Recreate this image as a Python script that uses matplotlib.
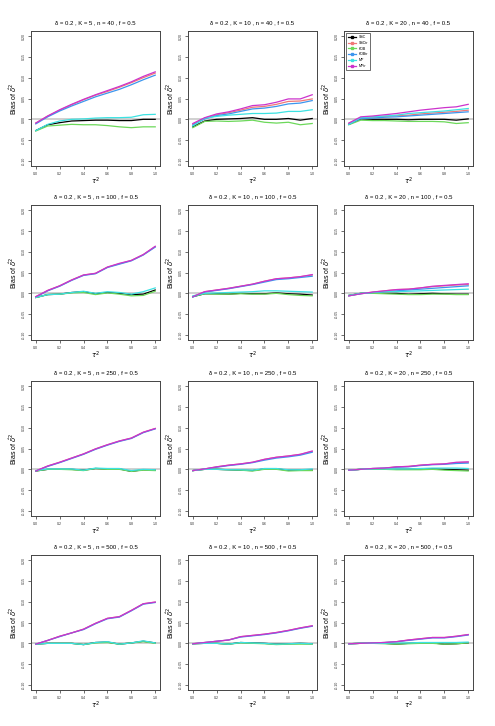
#!/usr/bin/env python3
"""Bias of delta^2 estimators vs tau^2, 4x3 grid of simulation settings."""

import matplotlib.pyplot as plt

plt.rcParams["font.family"] = ["Liberation Sans", "DejaVu Sans"]

tau2 = [0.0, 0.1, 0.2, 0.3, 0.4, 0.5, 0.6, 0.7, 0.8, 0.9, 1.0]
K_vals = [5, 10, 20]
n_vals = [40, 100, 250, 500]

# one row per panel, order: n=40 (K=5,10,20), n=100 (...), n=250, n=500
ssc = [
    [-0.027, -0.013, -0.008, -0.004, -0.003, -0.002, -0.002, -0.003, -0.003, 0.000, 0.000],
    [-0.018, -0.004, 0.000, 0.001, 0.002, 0.004, 0.000, 0.000, 0.002, -0.002, 0.002],
    [-0.012, 0.001, 0.000, 0.000, 0.000, -0.001, 0.000, 0.000, 0.000, -0.002, 0.001],
    [-0.010, -0.003, -0.002, 0.002, 0.004, -0.001, 0.002, 0.000, -0.003, -0.002, 0.008],
    [-0.008, -0.001, -0.001, -0.002, 0.000, -0.001, -0.001, 0.001, -0.001, -0.002, -0.004],
    [-0.005, 0.000, 0.001, 0.000, 0.000, -0.002, -0.001, 0.000, -0.001, -0.002, -0.002],
    [-0.004, 0.000, 0.000, 0.000, -0.002, 0.002, 0.001, 0.001, -0.005, -0.001, -0.002],
    [-0.003, 0.000, 0.000, -0.001, -0.002, -0.003, 0.001, 0.001, -0.002, -0.002, -0.002],
    [-0.002, 0.000, 0.000, 0.000, 0.000, 0.000, 0.001, 0.001, 0.000, -0.001, -0.002],
    [-0.002, 0.000, 0.000, 0.000, -0.003, 0.002, 0.003, -0.002, 0.001, 0.005, 0.001],
    [-0.001, 0.000, 0.000, -0.002, 0.002, 0.001, 0.000, -0.002, -0.001, 0.000, -0.001],
    [-0.001, 0.000, 0.000, 0.000, -0.002, 0.000, 0.001, 0.001, -0.002, -0.001, 0.001],
]
ssc_tr = [
    [-0.009, 0.008, 0.022, 0.035, 0.047, 0.058, 0.067, 0.077, 0.088, 0.100, 0.111],
    [-0.012, 0.003, 0.011, 0.016, 0.022, 0.029, 0.031, 0.036, 0.043, 0.044, 0.049],
    [-0.010, 0.004, 0.005, 0.007, 0.009, 0.010, 0.013, 0.015, 0.017, 0.019, 0.022],
    [-0.008, 0.007, 0.018, 0.032, 0.044, 0.048, 0.063, 0.071, 0.079, 0.093, 0.112],
    [-0.008, 0.004, 0.008, 0.012, 0.017, 0.022, 0.029, 0.035, 0.037, 0.040, 0.044],
    [-0.006, -0.001, 0.003, 0.006, 0.009, 0.010, 0.013, 0.016, 0.018, 0.020, 0.021],
    [-0.004, 0.008, 0.017, 0.027, 0.037, 0.049, 0.059, 0.068, 0.075, 0.089, 0.098],
    [-0.003, 0.001, 0.006, 0.010, 0.013, 0.017, 0.024, 0.029, 0.032, 0.036, 0.043],
    [-0.002, 0.000, 0.002, 0.003, 0.006, 0.007, 0.010, 0.012, 0.013, 0.016, 0.017],
    [-0.002, 0.007, 0.017, 0.025, 0.034, 0.048, 0.060, 0.064, 0.079, 0.095, 0.099],
    [-0.001, 0.002, 0.005, 0.008, 0.016, 0.019, 0.022, 0.026, 0.031, 0.037, 0.042],
    [-0.001, 0.000, 0.001, 0.002, 0.004, 0.008, 0.011, 0.014, 0.014, 0.017, 0.021],
]
kdb = [
    [-0.028, -0.016, -0.014, -0.012, -0.013, -0.013, -0.015, -0.018, -0.020, -0.018, -0.018],
    [-0.020, -0.005, -0.004, -0.005, -0.004, -0.002, -0.007, -0.009, -0.007, -0.013, -0.010],
    [-0.013, -0.002, -0.003, -0.003, -0.004, -0.005, -0.005, -0.005, -0.006, -0.010, -0.008],
    [-0.010, -0.003, -0.002, 0.001, 0.002, -0.003, 0.001, -0.002, -0.006, -0.005, 0.005],
    [-0.008, -0.001, -0.002, -0.002, -0.001, -0.002, -0.002, 0.000, -0.003, -0.005, -0.006],
    [-0.005, 0.000, 0.000, -0.001, -0.002, -0.003, -0.003, -0.002, -0.002, -0.003, -0.003],
    [-0.004, 0.000, 0.000, -0.001, -0.003, 0.002, 0.000, 0.000, -0.005, -0.002, -0.003],
    [-0.003, 0.000, 0.000, -0.001, -0.002, -0.004, 0.000, 0.000, -0.004, -0.003, -0.003],
    [-0.002, 0.000, 0.000, 0.000, -0.001, -0.001, -0.001, 0.000, -0.002, -0.003, -0.004],
    [-0.002, 0.000, 0.000, 0.000, -0.003, 0.001, 0.002, -0.002, 0.001, 0.004, 0.000],
    [-0.001, 0.000, 0.000, -0.002, 0.001, 0.000, -0.001, -0.003, -0.002, -0.002, -0.002],
    [-0.001, 0.000, 0.000, -0.001, -0.002, -0.001, 0.000, 0.000, -0.002, -0.001, 0.001],
]
kdb_tr = [
    [-0.011, 0.006, 0.020, 0.032, 0.043, 0.054, 0.063, 0.072, 0.083, 0.095, 0.106],
    [-0.014, 0.001, 0.009, 0.013, 0.019, 0.025, 0.027, 0.031, 0.037, 0.039, 0.045],
    [-0.012, 0.002, 0.003, 0.005, 0.006, 0.008, 0.010, 0.012, 0.014, 0.016, 0.018],
    [-0.009, 0.006, 0.017, 0.031, 0.043, 0.047, 0.062, 0.070, 0.078, 0.092, 0.111],
    [-0.009, 0.003, 0.007, 0.011, 0.016, 0.021, 0.027, 0.033, 0.035, 0.038, 0.041],
    [-0.006, -0.001, 0.002, 0.004, 0.006, 0.008, 0.010, 0.012, 0.014, 0.016, 0.018],
    [-0.004, 0.007, 0.016, 0.026, 0.036, 0.048, 0.058, 0.067, 0.074, 0.088, 0.097],
    [-0.003, 0.001, 0.005, 0.009, 0.012, 0.016, 0.022, 0.027, 0.030, 0.034, 0.041],
    [-0.002, 0.000, 0.002, 0.003, 0.005, 0.006, 0.009, 0.011, 0.012, 0.014, 0.015],
    [-0.002, 0.007, 0.016, 0.025, 0.033, 0.047, 0.059, 0.063, 0.078, 0.094, 0.098],
    [-0.001, 0.002, 0.005, 0.008, 0.015, 0.018, 0.021, 0.025, 0.030, 0.036, 0.041],
    [-0.001, 0.000, 0.001, 0.002, 0.004, 0.007, 0.010, 0.013, 0.013, 0.016, 0.020],
]
mp = [
    [-0.027, -0.012, -0.004, 0.000, 0.001, 0.003, 0.004, 0.004, 0.005, 0.011, 0.012],
    [-0.016, 0.003, 0.007, 0.010, 0.012, 0.014, 0.014, 0.015, 0.019, 0.019, 0.023],
    [-0.012, 0.004, 0.006, 0.008, 0.010, 0.014, 0.016, 0.018, 0.020, 0.023, 0.026],
    [-0.010, -0.003, -0.002, 0.002, 0.005, 0.000, 0.004, 0.002, -0.002, 0.004, 0.013],
    [-0.006, 0.000, 0.001, 0.002, 0.003, 0.004, 0.006, 0.006, 0.005, 0.004, 0.003],
    [-0.005, 0.000, 0.002, 0.004, 0.004, 0.005, 0.006, 0.007, 0.008, 0.009, 0.010],
    [-0.003, 0.001, 0.001, 0.001, -0.002, 0.003, 0.002, 0.002, -0.003, 0.000, -0.001],
    [-0.003, 0.000, 0.000, -0.001, -0.001, -0.002, 0.002, 0.002, -0.001, -0.001, 0.001],
    [-0.002, 0.000, 0.001, 0.001, 0.001, 0.001, 0.002, 0.003, 0.003, 0.003, 0.002],
    [-0.002, 0.000, 0.000, 0.000, -0.003, 0.002, 0.004, -0.002, 0.001, 0.006, 0.001],
    [-0.001, 0.000, 0.000, -0.002, 0.002, 0.001, 0.000, -0.002, -0.001, 0.000, -0.001],
    [-0.001, 0.000, 0.000, 0.000, 0.001, 0.001, 0.002, 0.002, 0.002, 0.002, 0.003],
]
mp_tr = [
    [-0.009, 0.008, 0.023, 0.036, 0.048, 0.059, 0.069, 0.079, 0.090, 0.103, 0.114],
    [-0.010, 0.004, 0.013, 0.018, 0.025, 0.033, 0.035, 0.041, 0.049, 0.049, 0.059],
    [-0.009, 0.006, 0.008, 0.011, 0.014, 0.018, 0.022, 0.025, 0.028, 0.030, 0.036],
    [-0.008, 0.007, 0.018, 0.032, 0.044, 0.048, 0.063, 0.072, 0.079, 0.093, 0.113],
    [-0.008, 0.004, 0.008, 0.012, 0.017, 0.022, 0.029, 0.035, 0.037, 0.040, 0.045],
    [-0.006, -0.001, 0.003, 0.006, 0.009, 0.010, 0.013, 0.017, 0.019, 0.021, 0.023],
    [-0.004, 0.008, 0.017, 0.027, 0.037, 0.049, 0.059, 0.068, 0.075, 0.089, 0.098],
    [-0.003, 0.001, 0.006, 0.010, 0.013, 0.017, 0.024, 0.029, 0.032, 0.036, 0.044],
    [-0.002, 0.000, 0.002, 0.003, 0.006, 0.007, 0.010, 0.012, 0.013, 0.017, 0.018],
    [-0.002, 0.007, 0.017, 0.025, 0.034, 0.048, 0.060, 0.064, 0.079, 0.095, 0.099],
    [-0.001, 0.002, 0.005, 0.008, 0.016, 0.019, 0.022, 0.026, 0.031, 0.037, 0.042],
    [-0.001, 0.000, 0.001, 0.002, 0.004, 0.008, 0.011, 0.014, 0.014, 0.017, 0.021],
]

methods = ["SSC", "SSCtr", "KDB", "KDBtr", "MP", "MPtr"]
series = [ssc, ssc_tr, kdb, kdb_tr, mp, mp_tr]
colors = ["#000000", "#F07878", "#6CD85A", "#3C96EE", "#3CE2E2", "#CC33CC"]

y_ticks = [-0.10, -0.05, 0.00, 0.05, 0.10, 0.15, 0.20]
x_ticks = [0.0, 0.2, 0.4, 0.6, 0.8, 1.0]

W, H = 495, 726
col_left = [31, 188, 344]
row_top = [31, 205, 381, 555]
ax_w, ax_h = 129, 135

fig = plt.figure(figsize=(W / 100, H / 100), dpi=100)

for r, n in enumerate(n_vals):
    for c, K in enumerate(K_vals):
        p = r * 3 + c
        ax = fig.add_axes([col_left[c] / W, 1 - (row_top[r] + ax_h) / H,
                           ax_w / W, ax_h / H])
        ax.axhline(0, color="#d0d0d0", lw=1.4, zorder=1)
        for name, s, col in zip(methods, series, colors):
            ax.plot(tau2, s[p], color=col, lw=0.9, label=name, zorder=2)
        ax.set_xlim(-0.04, 1.04)
        ax.set_ylim(-0.112, 0.212)
        ax.set_xticks(x_ticks)
        ax.set_xticklabels([f"{t:.1f}" for t in x_ticks])
        ax.set_yticks(y_ticks)
        ax.set_yticklabels([f"{t:.2f}" for t in y_ticks], rotation=90, va="center")
        ax.tick_params(labelsize=2.6, length=2, width=0.5, pad=2,
                       colors="#333333")
        for sp in ax.spines.values():
            sp.set_linewidth(0.7)
            sp.set_color("#444444")
        ax.set_title(f"δ = 0.2 , K = {K} , n = {n} , f = 0.5", fontsize=4.3, pad=5)
        ax.set_xlabel(r"$\tau^2$", fontsize=5, labelpad=0)
        ax.set_ylabel(r"Bias of $\hat{\delta}^2$", fontsize=5, labelpad=2)
        if p == 2:
            ax.legend(loc="upper left", fontsize=2.6, handlelength=2.2,
                      frameon=True, fancybox=False, edgecolor="#333333",
                      borderpad=0.6, labelspacing=0.5, markerscale=0.6,
                      framealpha=1)
            leg = ax.get_legend()
            leg.get_frame().set_linewidth(0.5)
            for h in leg.legend_handles:
                h.set_marker("s")
                h.set_markersize(2)

fig.savefig("out.png", dpi=100)
